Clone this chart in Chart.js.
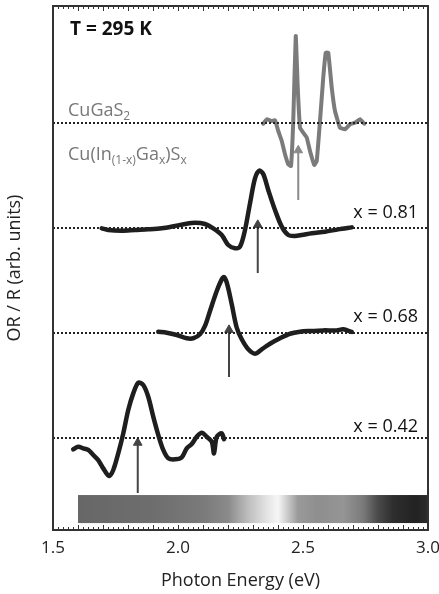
<!DOCTYPE html>
<html>
<head>
<meta charset="utf-8">
<script src="https://cdn.jsdelivr.net/npm/chart.js@4.4.1/dist/chart.umd.min.js"></script>
<style>
  html, body { margin: 0; padding: 0; background: #fff; }
  #wrap { width: 439px; height: 594px; }
</style>
</head>
<body>
<div id="wrap"><canvas id="er"></canvas></div>
<script>
// Spectra: photon energy (eV) and signal relative to each baseline
const energyCuGaS2 = [2.341, 2.355, 2.375, 2.388, 2.401, 2.415, 2.428, 2.441, 2.452, 2.461, 2.471, 2.479, 2.488, 2.501, 2.515, 2.528, 2.545, 2.555, 2.568, 2.581, 2.591, 2.601, 2.615, 2.628, 2.648, 2.668, 2.688, 2.708, 2.728, 2.745];
const signalCuGaS2 = [-0.007, 0.035, 0.019, 0.026, -0.076, -0.171, -0.298, -0.393, -0.41, 0.019, 0.829, 0.336, -0.045, -0.092, -0.14, -0.267, -0.4, -0.362, 0.019, 0.431, 0.67, 0.67, 0.336, 0.114, -0.045, -0.06, -0.012, 0.003, 0.035, -0.007];

const energy081 = [1.695, 1.721, 1.775, 1.828, 1.881, 1.935, 1.988, 2.028, 2.068, 2.108, 2.141, 2.175, 2.201, 2.228, 2.248, 2.268, 2.288, 2.308, 2.325, 2.341, 2.361, 2.388, 2.415, 2.441, 2.468, 2.495, 2.535, 2.588, 2.641, 2.695];
const signal081 = [-0.003, -0.019, -0.026, -0.019, -0.013, -0.003, 0.019, 0.038, 0.05, 0.038, -0.003, -0.067, -0.162, -0.193, -0.178, -0.019, 0.235, 0.473, 0.546, 0.514, 0.362, 0.171, 0.013, -0.067, -0.076, -0.067, -0.05, -0.035, -0.013, 0.006];

const energy068 = [1.921, 1.955, 1.995, 2.035, 2.061, 2.088, 2.108, 2.128, 2.155, 2.175, 2.184, 2.197, 2.215, 2.235, 2.255, 2.281, 2.308, 2.335, 2.368, 2.408, 2.448, 2.488, 2.528, 2.581, 2.635, 2.661, 2.695];
const signal068 = [0.012, 0.003, -0.019, -0.05, -0.05, -0.012, 0.067, 0.21, 0.4, 0.511, 0.533, 0.464, 0.273, 0.05, -0.06, -0.155, -0.197, -0.155, -0.102, -0.05, -0.007, 0.012, 0.019, 0.025, 0.025, 0.035, 0.01];

const energy042 = [1.581, 1.601, 1.621, 1.641, 1.661, 1.681, 1.701, 1.725, 1.741, 1.761, 1.781, 1.801, 1.821, 1.841, 1.861, 1.881, 1.901, 1.921, 1.941, 1.961, 1.988, 2.015, 2.035, 2.055, 2.075, 2.095, 2.115, 2.135, 2.144, 2.155, 2.175, 2.184];
const signal042 = [-0.108, -0.083, -0.098, -0.114, -0.162, -0.21, -0.289, -0.362, -0.305, -0.146, 0.044, 0.267, 0.425, 0.527, 0.505, 0.393, 0.203, 0.029, -0.114, -0.193, -0.203, -0.184, -0.098, -0.057, 0.012, 0.05, 0.012, -0.035, -0.146, 0.012, 0.044, -0.012];

// vertical offsets of the stacked spectra (CuGaS2, x=0.81, x=0.68, x=0.42)
const offsets = [3, 2, 1, 0];
const seriesLabels = ['CuGaS2', 'x = 0.81', 'x = 0.68', 'x = 0.42'];

// arrows marking the gap energy of each spectrum
const arrowEnergy = [2.481, 2.319, 2.204, 1.839];
const arrowFrom = [2.267, 1.571, 0.581, -0.524];
const arrowTo = [2.74, 2.03, 1.03, -0.045];

const xTicks = [1.5, 2.0, 2.5, 3.0];
const xMin = 1.5, xMax = 3.0;
const yMin = -0.876, yMax = 4.114;

function pts(xs, ys, off) {
    return xs.map((x, i) => ({ x: x, y: ys[i] + off }));
}

const curveColors = ['#7b7b7b', '#1e1e1e', '#1e1e1e', '#1e1e1e'];
const curves = [
    pts(energyCuGaS2, signalCuGaS2, offsets[0]),
    pts(energy081, signal081, offsets[1]),
    pts(energy068, signal068, offsets[2]),
    pts(energy042, signal042, offsets[3])
];

const datasets = [];

// dotted baselines
offsets.forEach(off => {
    datasets.push({
        data: [{ x: xMin, y: off }, { x: xMax, y: off }],
        borderColor: '#222',
        borderWidth: 1.8,
        borderDash: [2, 2],
        pointRadius: 0,
        tension: 0
    });
});

curves.forEach((c, i) => {
    datasets.push({
        label: seriesLabels[i],
        data: c,
        borderColor: curveColors[i],
        borderWidth: i === 0 ? 4 : 4.5,
        borderJoinStyle: 'round',
        borderCapStyle: 'round',
        pointRadius: 0,
        tension: i === 0 ? 0.1 : 0.3
    });
});

arrowEnergy.forEach((e, i) => {
    const col = i === 0 ? '#8a8a8a' : '#444';
    datasets.push({
        data: [{ x: e, y: arrowFrom[i] }, { x: e, y: arrowTo[i] }],
        borderColor: col,
        backgroundColor: col,
        borderWidth: 2,
        pointStyle: 'triangle',
        pointRadius: [0, 5],
        pointBorderWidth: 1,
        tension: 0
    });
});

// frame, inward ticks, spectrum bar and text labels
const decorations = {
    id: 'decorations',
    beforeDatasetsDraw(chart) {
        const { ctx, scales: { x, y } } = chart;
        const x0 = x.getPixelForValue(1.6), x1 = x.getPixelForValue(3.0);
        const y0 = y.getPixelForValue(-0.543), y1 = y.getPixelForValue(-0.81);
        const g = ctx.createLinearGradient(x0, 0, x1, 0);
        const stops = [
            [1.6, '#676767'], [1.9, '#6e6e6e'], [2.1, '#7a7a7a'], [2.2, '#8a8a8a'],
            [2.28, '#bdbdbd'], [2.36, '#e6e6e6'], [2.40, '#f6f6f6'], [2.44, '#c8c8c8'],
            [2.48, '#9a9a9a'], [2.56, '#8e8e8e'], [2.66, '#959595'], [2.74, '#7a7a7a'],
            [2.80, '#4a4a4a'], [2.86, '#2e2e2e'], [2.95, '#222222'], [3.0, '#2c2c2c']
        ];
        stops.forEach(s => g.addColorStop((s[0] - 1.6) / 1.4, s[1]));
        ctx.save();
        ctx.fillStyle = g;
        ctx.fillRect(x0, y1, x1 - x0, y0 - y1);
        ctx.restore();
    },
    afterDraw(chart) {
        const { ctx, chartArea: a, scales: { x, y } } = chart;
        ctx.save();
        // ticks every 0.02 eV, longer every 0.1 eV
        ctx.strokeStyle = '#333';
        ctx.lineWidth = 1;
        for (let i = 0; i <= 75; i++) {
            const px = Math.round(x.getPixelForValue(xMin + i * 0.02)) + 0.5;
            const len = i % 5 === 0 ? 5 : 3;
            ctx.beginPath();
            ctx.moveTo(px, a.bottom); ctx.lineTo(px, a.bottom - len);
            ctx.moveTo(px, a.top); ctx.lineTo(px, a.top + len);
            ctx.stroke();
        }
        ctx.strokeStyle = '#333';
        ctx.lineWidth = 2;
        ctx.strokeRect(a.left, a.top, a.right - a.left, a.bottom - a.top);

        ctx.textBaseline = 'alphabetic';
        ctx.fillStyle = '#111';
        ctx.font = 'bold 19px "Open Sans"';
        ctx.textAlign = 'left';
        ctx.fillText('T = 295 K', x.getPixelForValue(1.568), y.getPixelForValue(3.838));

        ctx.font = '18px "Open Sans"';
        ctx.textAlign = 'right';
        const lx = x.getPixelForValue(2.96);
        ctx.fillText(seriesLabels[1], lx, y.getPixelForValue(offsets[1] + 0.095));
        ctx.fillText(seriesLabels[2], lx, y.getPixelForValue(offsets[2] + 0.105));
        ctx.fillText(seriesLabels[3], lx, y.getPixelForValue(offsets[3] + 0.057));

        // gray labels with subscripts
        ctx.fillStyle = '#777';
        ctx.textAlign = 'left';
        function runs(parts, px, py) {
            parts.forEach(p => {
                ctx.font = p[1] ? '12px "Open Sans"' : '18px "Open Sans"';
                const dy = p[1] ? 4 : 0;
                ctx.fillText(p[0], px, py + dy);
                px += ctx.measureText(p[0]).width;
            });
        }
        runs([['CuGaS', 0], ['2', 1]], x.getPixelForValue(1.56), y.getPixelForValue(3.067));
        runs([['Cu(In', 0], ['(1-x)', 1], ['Ga', 0], ['x', 1], [')S', 0], ['x', 1]],
            x.getPixelForValue(1.56), y.getPixelForValue(2.648));
        ctx.restore();
    }
};

const ctx = document.getElementById('er').getContext('2d');
new Chart(ctx, {
    type: 'line',
    data: { datasets: datasets },
    options: {
        responsive: true,
        maintainAspectRatio: false,
        animation: false,
        layout: { padding: { top: 6, right: 11, left: 0, bottom: 0 } },
        plugins: { legend: { display: false }, tooltip: { enabled: false } },
        scales: {
            x: {
                type: 'linear',
                min: xMin,
                max: xMax,
                afterBuildTicks: s => { s.ticks = xTicks.map(v => ({ value: v })); },
                afterFit: s => { s.height = 64; s.paddingLeft = 0; s.paddingRight = 0; },
                grid: { display: false, drawTicks: false },
                border: { display: false },
                ticks: {
                    padding: 8,
                    color: '#222',
                    font: { family: 'Open Sans', size: 17 },
                    callback: v => v.toFixed(1)
                },
                title: {
                    display: true,
                    text: 'Photon Energy (eV)',
                    color: '#222',
                    font: { family: 'Open Sans', size: 18 },
                    padding: { top: 4, bottom: 2 }
                }
            },
            y: {
                type: 'linear',
                min: yMin,
                max: yMax,
                afterFit: s => { s.width = 53; },
                grid: { display: false, drawTicks: false },
                border: { display: false },
                ticks: { display: false },
                title: {
                    display: true,
                    text: 'OR / R (arb. units)',
                    color: '#222',
                    font: { family: 'Open Sans', size: 18 },
                    padding: { top: 4, bottom: 0 }
                }
            }
        }
    },
    plugins: [decorations]
});
</script>
</body>
</html>
